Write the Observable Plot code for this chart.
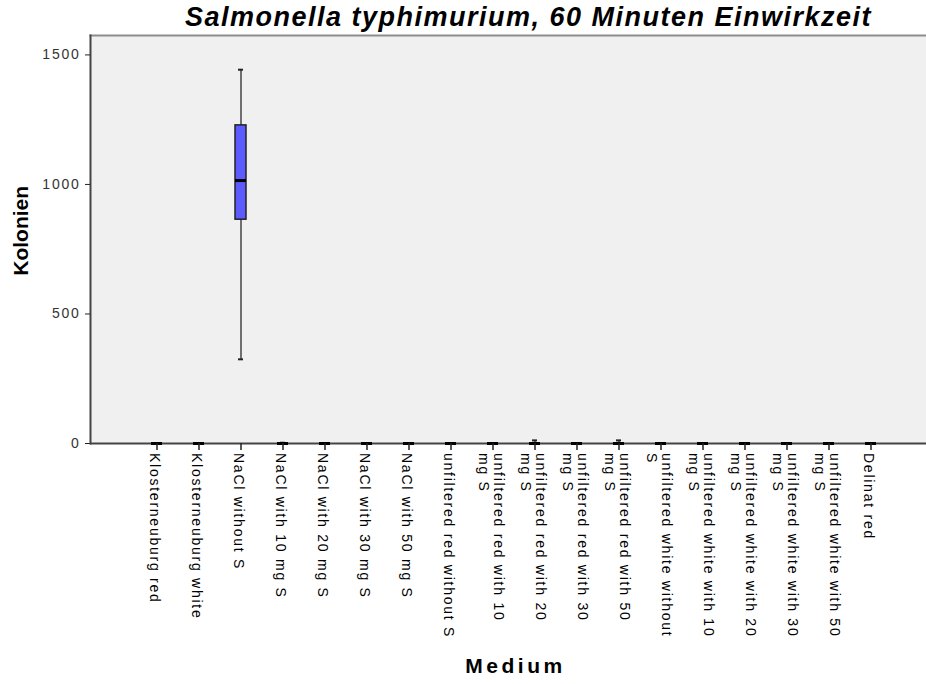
<!DOCTYPE html>
<html><head><meta charset="utf-8">
<script src="https://cdn.jsdelivr.net/npm/d3@7"></script>
<script src="https://cdn.jsdelivr.net/npm/@observablehq/plot@0.6"></script>
<style>
body{margin:0;background:#fff;font-family:"Liberation Sans",Arial,sans-serif;}
#title{height:34px;line-height:34px;font-size:27px;font-weight:bold;font-style:italic;letter-spacing:1.5px;padding-left:185px;white-space:nowrap;color:#000;}
</style></head><body>
<div id="title">Salmonella typhimurium, 60 Minuten Einwirkzeit</div>
<div id="chart"></div>
<script>
const categories = [
  "Klosterneuburg red", "Klosterneuburg white", "NaCl without S",
  "NaCl with 10 mg S", "NaCl with 20 mg S", "NaCl with 30 mg S", "NaCl with 50 mg S",
  "unfiltered red without S", "unfiltered red with 10 mg S", "unfiltered red with 20 mg S",
  "unfiltered red with 30 mg S", "unfiltered red with 50 mg S", "unfiltered white without S",
  "unfiltered white with 10 mg S", "unfiltered white with 20 mg S", "unfiltered white with 30 mg S",
  "unfiltered white with 50 mg S", "Delinat red"
];
const tickLabels = [
  "Klosterneuburg red", "Klosterneuburg white", "NaCl without S",
  "NaCl with 10 mg S", "NaCl with 20 mg S", "NaCl with 30 mg S", "NaCl with 50 mg S",
  "unfiltered red without S", "unfiltered red with 10\nmg S", "unfiltered red with 20\nmg S",
  "unfiltered red with 30\nmg S", "unfiltered red with 50\nmg S", "unfiltered white without\nS",
  "unfiltered white with 10\nmg S", "unfiltered white with 20\nmg S", "unfiltered white with 30\nmg S",
  "unfiltered white with 50\nmg S", "Delinat red"
];
const minVals    = [0, 0, 325,  0, 0, 0, 0, 0, 0, 0,  0, 0,  0, 0, 0, 0, 0, 0];
const q1Vals     = [0, 0, 864,  0, 0, 0, 0, 0, 0, 0,  0, 0,  0, 0, 0, 0, 0, 0];
const medianVals = [0, 0, 1015, 0, 0, 0, 0, 0, 0, 0,  0, 0,  0, 0, 0, 0, 0, 0];
const q3Vals     = [0, 0, 1228, 0, 0, 0, 0, 0, 0, 0,  0, 0,  0, 0, 0, 0, 0, 0];
const maxVals    = [0, 0, 1443, 3, 0, 0, 0, 0, 0, 12, 0, 12, 0, 0, 0, 0, 0, 0];
const yTicks = [0, 500, 1000, 1500];
const yTitle = "Kolonien";
const xTitle = "Medium";

const data = categories.map((c, i) => ({
  cat: c, label: tickLabels[i], min: minVals[i], q1: q1Vals[i],
  median: medianVals[i], q3: q3Vals[i], max: maxVals[i]
}));

const plot = Plot.plot({
  width: 926, height: 650,
  marginLeft: 90, marginRight: 0, marginTop: 1, marginBottom: 241,
  style: {fontFamily: "'Liberation Sans', Arial, sans-serif", fontSize: "14px", color: "#333", background: "#fff", overflow: "visible"},
  x: {type: "band", domain: categories, range: [90, 937], paddingInner: 0.74, paddingOuter: 1.36, align: 0.5, axis: null},
  y: {domain: [0, 1575], axis: null},
  marks: [
    Plot.frame({fill: "#f0f0f0", stroke: null}),
    Plot.frame({anchor: "top", stroke: "#8c8c8c", strokeWidth: 2}),
    Plot.ruleY([0], {stroke: "#444", strokeWidth: 2}),
    Plot.ruleX(data.filter(d => d.max > d.min), {x: "cat", y1: "min", y2: "max", stroke: "#444", strokeWidth: 1.5}),
    Plot.tickY(data.filter(d => d.max > d.min), {x: "cat", y: "max", insetLeft: 3, insetRight: 3, stroke: "#222", strokeWidth: 2}),
    Plot.tickY(data.filter(d => d.max > d.min), {x: "cat", y: "min", insetLeft: 3, insetRight: 3, stroke: "#222", strokeWidth: 2}),
    Plot.barY(data.filter(d => d.q3 > d.q1), {x: "cat", y1: "q1", y2: "q3", fill: "#5b5bff", stroke: "#222", strokeWidth: 1.5}),
    Plot.tickY(data, {x: "cat", y: "median", stroke: "#000", strokeWidth: 3}),
    Plot.frame({anchor: "left", stroke: "#444", strokeWidth: 2}),
    Plot.axisY({ticks: yTicks, tickSize: 5, tickPadding: 5, label: null, fontSize: 14, stroke: "#222", fill: "#333", tickFormat: d => String(d)}),
    Plot.axisX({tickSize: 7, tickFormat: () => "", label: null, stroke: "#222", strokeWidth: 1.5}),
    Plot.text(data, {x: "cat", text: "label", frameAnchor: "bottom", dy: 9.5, dx: -2, rotate: 90, fontSize: 14,
      textAnchor: "start", lineAnchor: "middle", lineHeight: 1.07, fill: "#000"}),
    Plot.text([yTitle], {frameAnchor: "left", dx: -69, dy: -8.7, rotate: -90, textAnchor: "middle", fontSize: 21, fontWeight: "bold", fill: "#000"}),
    Plot.text([xTitle], {frameAnchor: "bottom", dy: 229, dx: 7, textAnchor: "middle", fontSize: 21, fontWeight: "bold", fill: "#000"})
  ]
});
// SPSS-like wide letter spacing
d3.select(plot).selectAll("text").each(function() {
  const t = d3.select(this);
  const s = t.text();
  if (s === yTitle) t.style("letter-spacing", "0px");
  else if (s === xTitle) t.style("letter-spacing", "3.5px");
  else t.style("letter-spacing", "1.75px");
});
document.getElementById("chart").appendChild(plot);
</script>
</body></html>
